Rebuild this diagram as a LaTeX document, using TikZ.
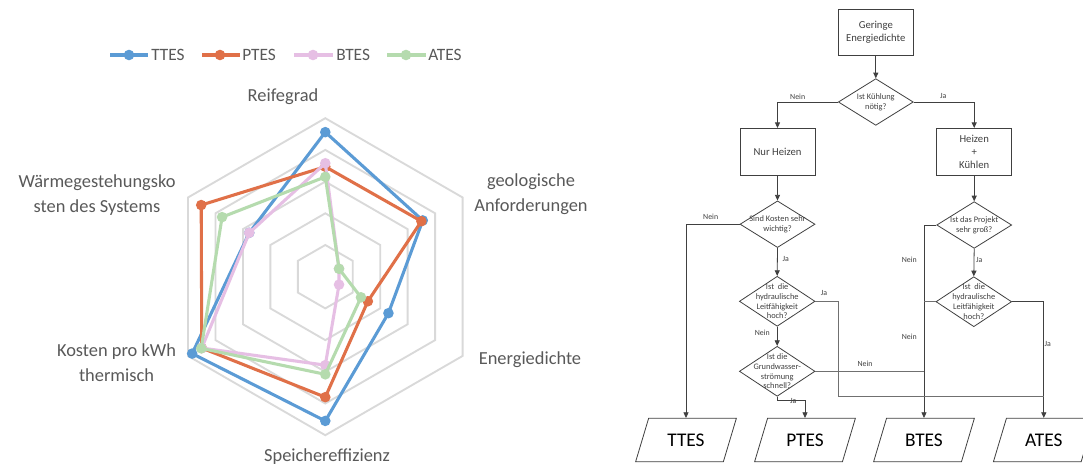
\documentclass[tikz,border=0pt]{standalone}
\usepackage{fontspec}
\setmainfont{Carlito}
\usetikzlibrary{shapes.geometric,arrows.meta,calc}
\definecolor{cT}{HTML}{5B9BD5}
\definecolor{cP}{HTML}{E07048}
\definecolor{cB}{HTML}{E6BFE4}
\definecolor{cA}{HTML}{B5DBAE}
\definecolor{gridc}{HTML}{D9D9D9}
\definecolor{txt}{HTML}{595959}
\definecolor{fl}{HTML}{404040}
\newcommand\radarseries[7]{%
  \draw[serie,#1] (90:#2*31.7) -- (30:#3*31.7) -- (-30:#4*31.7) -- (-90:#5*31.7) -- (-150:#6*31.7) -- (150:#7*31.7) -- cycle;
  \foreach \a/\v in {90/#2,30/#3,-30/#4,-90/#5,-150/#6,150/#7} \fill[#1] (\a:\v*31.7) circle (5.3);
}
\begin{document}
\begin{tikzpicture}[x=0.75pt,y=-0.75pt,
  serie/.style={line width=2.3pt,line join=round},
  gridline/.style={draw=gridc,line width=1.4pt},
  leg/.style={font=\fontsize{13}{15}\selectfont,text=txt,inner sep=0pt},
  axl/.style={font=\fontsize{13.8}{18.75}\selectfont,text=txt,align=center,inner sep=0pt},
  box/.style={draw=fl,line width=0.6pt,minimum width=56.25pt,minimum height=34.5pt,font=\fontsize{8}{9.8}\selectfont,text=fl,align=center,inner sep=0pt},
  dia/.style={diamond,draw=fl,line width=0.6pt,minimum width=56.25pt,minimum height=35pt,inner sep=0pt},
  diab/.style={dia,minimum width=56.75pt,minimum height=37.5pt},
  dtxt/.style={font=\fontsize{6.3}{7.3}\selectfont,text=fl,align=center,inner sep=0pt},
  lab/.style={font=\fontsize{5.9}{7}\selectfont,text=fl,inner sep=0pt},
  para/.style={trapezium,trapezium left angle=63,trapezium right angle=117,trapezium stretches=true,draw=fl,line width=0.6pt,minimum width=75.75pt,minimum height=32.5pt,inner sep=0pt,font=\fontsize{14.5}{17}\selectfont,text=black},
  arr/.style={draw=fl,line width=0.6pt,-{Triangle[length=4.2pt,width=3.8pt]}},
  ln/.style={draw=fl!75,line width=0.6pt}]
\useasboundingbox (0,0) rectangle (1083,465);
\fill[white] (0,0) rectangle (1083,465);

% ---------- legend ----------
\draw[serie,cT] (110,55) -- (148,55); \fill[cT] (129,55) circle (5.3);
\node[leg,anchor=west] (lT) at (151,55) {TTES};
\draw[serie,cP] (202,55) -- (240,55); \fill[cP] (220,55) circle (5.3);
\node[leg,anchor=west] (lP) at (242,55) {PTES};
\draw[serie,cB] (294,55) -- (333,55); \fill[cB] (313,55) circle (5.3);
\node[leg,anchor=west] (lB) at (336,55) {BTES};
\draw[serie,cA] (387,55) -- (426,55); \fill[cA] (406,55) circle (5.3);
\node[leg,anchor=west] (lA) at (428,55) {ATES};

% ---------- radar ----------
\begin{scope}[shift={(325.3,276.7)},yscale=-1]
  \foreach \k in {1,...,5}
    \draw[gridline] (90:\k*31.7) -- (30:\k*31.7) -- (-30:\k*31.7) -- (-90:\k*31.7) -- (-150:\k*31.7) -- (150:\k*31.7) -- cycle;
  \radarseries{cT}{4.56}{3.55}{2.3}{4.55}{4.85}{2.77}
  \radarseries{cP}{3.47}{3.5}{1.55}{3.8}{4.5}{4.52}
  \radarseries{cB}{3.58}{0.5}{0.5}{2.79}{4.5}{2.77}
  \radarseries{cA}{3.15}{0.5}{1.3}{3.08}{4.52}{3.76}
\end{scope}

\node[axl] (aR) at (283,97) {Reifegrad};
\node[axl] (aG) at (531,194) {geologische\\Anforderungen};
\node[axl] (aE) at (530,360) {Energiedichte};
\node[axl] (aS) at (327,457) {Speichereffizienz};
\node[axl] (aK) at (116.5,363) {Kosten pro kWh\\thermisch};
\node[axl] (aW) at (97,195) {Wärmegestehungsko\\sten des Systems};

% ---------- flowchart ----------
\node[box] (g) at (875.8,32) {Geringe\\Energiedichte};
\node[dia] (d1) at (875.8,102) {};
\node[dtxt] (t1) at (d1) {Ist Kühlung\\nötig?};
\node[box,minimum height=35pt] (nh) at (777.5,151.7) {Nur Heizen};
\node[box,minimum height=35pt] (hk) at (974.2,151.7) {Heizen\\+\\Kühlen};
\node[dia] (d2) at (777.5,224.2) {};
\node[dtxt] (t2) at (d2) {Sind Kosten sehr\\wichtig?};
\node[diab] (d3) at (777.2,301.3) {};
\node[dtxt] (t3) at (d3) {Ist\ \ die\\hydraulische\\Leitfähigkeit\\hoch?};
\node[diab] (d4) at (777.2,371.3) {};
\node[dtxt] (t4) at (d4) {Ist die\\Grundwasser-\\strömung\\schnell?};
\node[dia] (d5) at (974.2,225) {};
\node[dtxt] (t5) at (d5) {Ist das Projekt\\sehr groß?};
\node[diab] (d6) at (973.8,301.7) {};
\node[dtxt] (t6) at (d6) {Ist\ \ die\\hydraulische\\Leitfähigkeit\\hoch?};

\node[para] (tt) at (686,440) {TTES};
\node[para] (pt) at (805,440) {PTES};
\node[para] (bt) at (924,440) {BTES};
\node[para] (at) at (1043.8,440) {ATES};

\draw[arr] (g.south) -- (d1.north);
\draw[arr] (d1.west) -| (nh.north);
\draw[arr] (d1.east) -| (hk.north);
\draw[arr] (nh.south) -- (d2.north);
\draw[arr] (hk.south) -- (d5.north);
\draw[arr] (d2.south) -- (d3.north);
\draw[arr] (d3.south) -- (d4.north);
\draw[arr] (d5.south) -- (d6.north);
\draw[arr] (d2.west) -| (tt.north);
\draw[arr] (d4.south) -- ++(0,4) -| (pt.north);
\draw[arr] (d5.west) -| (bt.north);
\draw[ln] (d6.west) -- (d6.west -| bt.north);
\draw[ln] (d4.east) -- (d4.east -| bt.north);
\draw[arr] (d6.east) -| (at.north);
\coordinate (j) at (838.3,396.7);
\draw[ln] (d3.east) -| (j) -- (j -| at.north);

\node[lab] (n1) at (797.7,96.7) {Nein};
\node[lab] (n2) at (943.3,96) {Ja};
\node[lab] (n3) at (710.7,216.7) {Nein};
\node[lab] (n4) at (785.7,259.3) {Ja};
\node[lab] (n5) at (824,292.7) {Ja};
\node[lab] (n6) at (762.3,332.7) {Nein};
\node[lab] (n7) at (865,364) {Nein};
\node[lab] (n8) at (793.3,400.7) {Ja};
\node[lab] (n9) at (909.3,260) {Nein};
\node[lab] (n10) at (979.3,260) {Ja};
\node[lab] (n11) at (909.3,337.3) {Nein};
\node[lab] (n12) at (1047.7,344.3) {Ja};
\end{tikzpicture}
\end{document}
